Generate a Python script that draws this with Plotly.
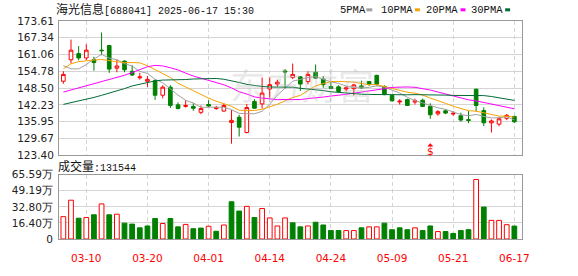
import plotly.graph_objects as go

# ---------------- data ----------------
dates = ["03-05", "03-06", "03-07", "03-10", "03-11", "03-12", "03-13", "03-14", "03-17", "03-18",
         "03-19", "03-20", "03-21", "03-24", "03-25", "03-26", "03-27", "03-28", "03-31", "04-01",
         "04-02", "04-03", "04-07", "04-08", "04-09", "04-10", "04-11", "04-14", "04-15", "04-16",
         "04-17", "04-18", "04-21", "04-22", "04-23", "04-24", "04-25", "04-28", "04-29", "04-30",
         "05-06", "05-07", "05-08", "05-09", "05-12", "05-13", "05-14", "05-15", "05-16", "05-19",
         "05-20", "05-21", "05-22", "05-23", "06-10", "06-11", "06-12", "06-13", "06-16", "06-17"]

opens = [151.06, 159.08, 161.41, 159.78, 159.20, 162.70, 164.43, 155.95, 158.62, 154.78,
         152.34, 151.06, 151.29, 145.83, 148.85, 142.23, 141.65, 141.65, 139.44, 142.35,
         140.83, 139.90, 135.60, 137.58, 131.88, 143.51, 142.58, 148.15, 150.01, 154.90,
         152.45, 152.70, 150.95, 154.43, 151.88, 149.09, 148.97, 148.16, 148.27, 149.32,
         150.95, 153.27, 149.09, 145.72, 143.30, 144.20, 143.27, 143.97, 141.65, 138.86,
         140.00, 138.80, 138.16, 136.70, 148.10, 140.10, 135.50, 135.02, 137.20, 137.90]
highs = [154.78, 166.64, 164.20, 164.89, 160.25, 169.31, 164.43, 159.20, 158.85, 157.11,
         154.20, 153.04, 151.88, 149.55, 149.55, 143.16, 143.97, 142.81, 142.00, 143.97,
         141.88, 142.81, 140.25, 138.51, 142.58, 144.32, 152.45, 152.45, 151.64, 155.60,
         157.69, 153.04, 154.78, 157.34, 153.04, 151.06, 149.55, 149.32, 150.13, 151.29,
         151.18, 153.50, 149.55, 146.06, 144.32, 144.55, 144.55, 144.55, 142.81, 140.25,
         140.49, 139.90, 139.32, 139.90, 148.20, 141.30, 136.76, 137.70, 138.80, 138.10]
lows = [150.13, 157.69, 158.85, 158.85, 155.01, 160.80, 154.20, 154.43, 154.43, 153.04,
        151.65, 148.97, 144.09, 144.67, 141.07, 140.60, 141.18, 140.02, 138.74, 141.41,
        140.37, 139.67, 127.70, 130.37, 131.54, 140.83, 140.83, 144.90, 148.97, 148.39,
        151.87, 147.46, 149.90, 151.88, 148.62, 148.16, 146.76, 147.23, 145.72, 148.16,
        149.32, 149.32, 145.83, 143.51, 142.35, 141.77, 142.35, 141.41, 137.00, 138.16,
        138.74, 138.16, 135.95, 135.37, 139.70, 134.30, 131.88, 134.21, 136.50, 135.40]
closes = [153.62, 162.69, 159.78, 162.69, 158.04, 162.50, 155.60, 156.76, 155.36, 153.39,
          152.69, 151.76, 145.83, 148.85, 142.00, 140.83, 142.00, 140.95, 140.83, 141.77,
          141.18, 142.00, 136.42, 133.86, 141.20, 140.95, 146.64, 149.78, 150.71, 154.55,
          153.62, 150.00, 153.62, 152.23, 149.78, 148.39, 147.23, 148.62, 149.67, 148.62,
          149.85, 149.95, 146.06, 143.74, 143.60, 142.00, 143.74, 141.65, 138.51, 139.67,
          139.15, 139.05, 136.53, 136.40, 142.00, 135.50, 136.20, 137.00, 138.30, 135.90]
volumes = [228000, 396000, 212000, 219000, 247000, 358000, 247000, 253000, 162000, 152000,
           114000, 133000, 209000, 158000, 209000, 124000, 149000, 105000, 111000, 130000,
           79000, 143000, 380000, 285000, 333000, 219000, 311000, 215000, 133000, 215000,
           165000, 124000, 133000, 171000, 143000, 86000, 86000, 86000, 86000, 114000,
           124000, 124000, 162000, 95000, 114000, 95000, 114000, 86000, 133000, 76000,
           76000, 57000, 86000, 95000, 607300, 326000, 190000, 190000, 146000, 131544]

# moving-average values before enough visible history exists
ma5_head = [156.9, 155.7, 155.7, 157.3]
ma10_head = [155.7, 157.6, 158.4, 158.8, 159.0, 159.2, 158.8, 158.3, 158.0]
ma20_head = [147.0, 147.8, 148.6, 149.3, 150.0, 150.8, 151.6, 152.4, 153.3, 154.3,
             155.5, 156.5, 157.0, 156.8, 156.1, 155.3, 154.1, 153.0, 152.2]
ma30_head = [142.4, 143.0, 143.6, 144.3, 145.0, 145.8, 146.6, 147.4, 148.3, 149.3,
             150.0, 150.6, 151.2, 151.5, 151.5, 151.6, 151.7, 151.9, 152.0, 152.1,
             152.1, 151.8, 151.3, 150.6, 149.9, 149.4, 149.1, 148.9, 148.8]

price_ticks = ["123.40", "129.67", "135.95", "142.23", "148.50", "154.78", "161.06", "167.34", "173.61"]
vol_tick_vals = [0, 164000, 328000, 491900, 655900]
vol_tick_text = ["0", "16.40万", "32.80万", "49.19万", "65.59万"]
date_ticks = ["03-10", "03-20", "04-01", "04-14", "04-24", "05-09", "05-21", "06-17"]
ma_names = ["5PMA", "10PMA", "20PMA", "30PMA"]
stock_name = "海光信息"
title_rest = "[688041] 2025-06-17 15:30"
vol_title = "成交量"
signal_date = "05-16"
watermark = "东方财富"

# ---------------- helpers ----------------
def moving_avg(head, n):
    out = list(head)
    for i in range(n - 1, len(closes)):
        out.append(sum(closes[i - n + 1:i + 1]) / n)
    return out

ma_series = [moving_avg(ma5_head, 5), moving_avg(ma10_head, 10),
             moving_avg(ma20_head, 20), moving_avg(ma30_head, 30)]
ma_colors = ["#a0a0a0", "#f5a300", "#ff00ff", "#006b35"]

idx = list(range(len(dates)))
RED = "#ff0000"
GREEN = "#008000"

W, H = 578, 276
ML, MR, MT, MB = 55, 56, 21, 21
PW, PH = W - ML - MR, H - MT - MB

def px_x(px):
    return (px - ML) / PW

def px_y(py):
    return (H - MB - py) / PH

fig = go.Figure()

fig.add_trace(go.Candlestick(
    x=idx, open=opens, high=highs, low=lows, close=closes,
    increasing=dict(line=dict(color=RED, width=1), fillcolor="#ffffff"),
    decreasing=dict(line=dict(color=GREEN, width=1), fillcolor=GREEN),
    whiskerwidth=0, xaxis="x", yaxis="y", showlegend=False, hoverinfo="skip"))

for vals, col in zip(ma_series, ma_colors):
    fig.add_trace(go.Scatter(x=idx, y=vals, mode="lines", line=dict(color=col, width=1),
                             xaxis="x", yaxis="y", showlegend=False, hoverinfo="skip"))

vol_up = [closes[i] >= (closes[i - 1] if i > 0 else opens[i]) for i in idx]
fig.add_trace(go.Bar(
    x=idx, y=volumes, width=0.62,
    marker=dict(color=["#ffffff" if u else GREEN for u in vol_up],
                line=dict(color=[RED if u else GREEN for u in vol_up], width=1)),
    xaxis="x2", yaxis="y2", showlegend=False, hoverinfo="skip"))

tick_pos = [dates.index(d) for d in date_ticks]
xr = [-0.57, 60.0]
grid = "#d4d4d4"
border = "#999999"
tick_font = dict(family="DejaVu Sans", size=10.5, color="#222222")

common_x = dict(range=xr, tickvals=tick_pos, showgrid=True, gridcolor=grid, griddash="4px,3px",
                gridwidth=1, zeroline=False, showline=True, mirror=True, linecolor=border,
                linewidth=1, ticks="", fixedrange=True)

fig.update_layout(
    width=W, height=H, margin=dict(l=ML, r=MR, t=MT, b=MB),
    paper_bgcolor="#ffffff", plot_bgcolor="#ffffff",
    xaxis=dict(**common_x, showticklabels=False, anchor="y", rangeslider=dict(visible=False)),
    xaxis2=dict(**common_x, showticklabels=True, ticktext=date_ticks, anchor="y2",
                tickfont=dict(family="DejaVu Sans", size=10.5, color=RED), ticklabelstandoff=9),
    yaxis=dict(domain=[px_y(165), 1], range=[float(price_ticks[0]), float(price_ticks[-1])],
               tickvals=[float(t) for t in price_ticks], ticktext=price_ticks,
               showgrid=True, gridcolor=grid, zeroline=False, showline=True, mirror=True,
               linecolor=border, ticks="", tickfont=tick_font, ticklabelstandoff=2, anchor="x"),
    yaxis2=dict(domain=[0, px_y(186)], range=[0, vol_tick_vals[-1]],
                tickvals=vol_tick_vals, ticktext=vol_tick_text,
                showgrid=True, gridcolor=grid, zeroline=False, showline=True, mirror=True,
                linecolor=border, ticks="", tickfont=tick_font, ticklabelstandoff=3, anchor="x2"),
    boxgap=0.32,
)

ann = []
# faint watermark
ann.append(dict(text=watermark, xref="paper", yref="paper", x=px_x(300), y=px_y(89),
                xanchor="center", yanchor="middle", showarrow=False,
                font=dict(family="Noto Sans CJK SC", size=36, color="rgba(185,185,185,0.33)")))
# title
ann.append(dict(text=f"<span style='font-size:12px'>{stock_name}</span>{title_rest}",
                xref="paper", yref="paper", x=px_x(50), y=px_y(9), xanchor="left", yanchor="middle",
                showarrow=False, font=dict(family="Liberation Mono, Noto Sans CJK SC", size=10, color="#111111")))
# volume title
ann.append(dict(text=f"<span style='font-size:12px'>{vol_title}</span>:{volumes[-1]}",
                xref="paper", yref="paper", x=px_x(52), y=px_y(178), xanchor="left", yanchor="middle",
                showarrow=False, font=dict(family="Liberation Mono, Noto Sans CJK SC", size=10, color="#111111")))
# legend
legend_text_px = [336, 378, 423, 469]
legend_dash_px = [(365, 371), (414, 419), (460, 465), (505, 510)]
shapes = []
for name, col, tx, (d0, d1) in zip(ma_names, ma_colors, legend_text_px, legend_dash_px):
    ann.append(dict(text=name, xref="paper", yref="paper", x=px_x(tx), y=px_y(9),
                    xanchor="left", yanchor="middle", showarrow=False,
                    font=dict(family="Liberation Mono", size=10.5, color="#111111")))
    shapes.append(dict(type="line", xref="paper", yref="paper", x0=px_x(d0), x1=px_x(d1),
                       y0=px_y(9), y1=px_y(9), line=dict(color=col, width=3)))
# signal marker: small triangle + "$"
sx = dates.index(signal_date)
shapes.append(dict(type="path", xref="x", yref="paper",
                   path=f"M {sx - 0.32},{px_y(155.5)} L {sx + 0.32},{px_y(155.5)} L {sx},{px_y(152.5)} Z",
                   fillcolor=RED, line=dict(color=RED, width=0.5)))
ann.append(dict(text="$", xref="x", yref="paper", x=sx, y=px_y(161), xanchor="center", yanchor="middle",
                showarrow=False, font=dict(family="DejaVu Sans", size=10.5, color=RED)))

fig.update_layout(annotations=ann, shapes=shapes)

fig.write_html("out.html")
